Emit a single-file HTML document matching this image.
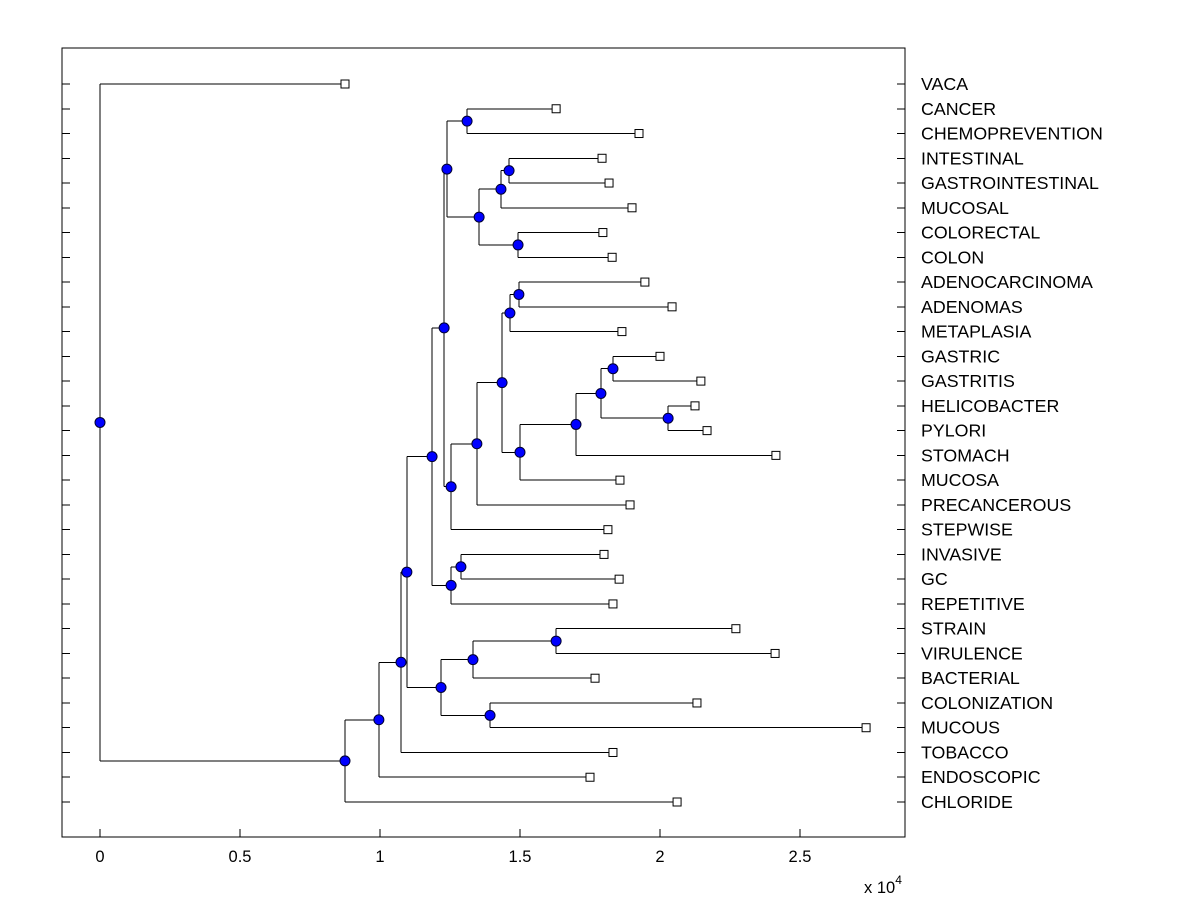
<!DOCTYPE html>
<html><head><meta charset="utf-8"><style>
body{margin:0;background:#fff;}
svg{display:block;font-family:"Liberation Sans",Arial,sans-serif;}
</style></head><body>
<svg id="chart" width="1200" height="900" viewBox="0 0 1200 900"></svg>
<script>
const leaves=["VACA","CANCER","CHEMOPREVENTION","INTESTINAL","GASTROINTESTINAL","MUCOSAL","COLORECTAL","COLON","ADENOCARCINOMA","ADENOMAS","METAPLASIA","GASTRIC","GASTRITIS","HELICOBACTER","PYLORI","STOMACH","MUCOSA","PRECANCEROUS","STEPWISE","INVASIVE","GC","REPETITIVE","STRAIN","VIRULENCE","BACTERIAL","COLONIZATION","MUCOUS","TOBACCO","ENDOSCOPIC","CHLORIDE"];
const leafValues=[0.875,1.629,1.925,1.793,1.818,1.9,1.796,1.829,1.946,2.043,1.864,2.0,2.146,2.125,2.168,2.414,1.857,1.893,1.814,1.8,1.854,1.832,2.271,2.411,1.768,2.132,2.736,1.832,1.75,2.061];
const nodeNames=["n_cancer","n_intgast","n_int3","n_colon","n_int4","n_top","n_adeno","n_meta","n_gastric","n_helico","n_g2","n_stom","n_s2","n_s3","n_s4","n_s5","n_mid","n_inv","n_inv2","n_big","n_strain","n_bact","n_mucous","n_b2","n_c","n_d","n_e","n_f","root"];
const nodeValues=[1.311,1.461,1.432,1.493,1.354,1.239,1.496,1.464,1.832,2.029,1.789,1.7,1.5,1.436,1.346,1.254,1.229,1.289,1.254,1.186,1.629,1.332,1.393,1.218,1.096,1.075,0.996,0.875,0];
const nodeChildren=[["CANCER","CHEMOPREVENTION"],["INTESTINAL","GASTROINTESTINAL"],["n_intgast","MUCOSAL"],["COLORECTAL","COLON"],["n_int3","n_colon"],["n_cancer","n_int4"],["ADENOCARCINOMA","ADENOMAS"],["n_adeno","METAPLASIA"],["GASTRIC","GASTRITIS"],["HELICOBACTER","PYLORI"],["n_gastric","n_helico"],["n_g2","STOMACH"],["n_stom","MUCOSA"],["n_meta","n_s2"],["n_s3","PRECANCEROUS"],["n_s4","STEPWISE"],["n_top","n_s5"],["INVASIVE","GC"],["n_inv","REPETITIVE"],["n_mid","n_inv2"],["STRAIN","VIRULENCE"],["n_strain","BACTERIAL"],["COLONIZATION","MUCOUS"],["n_bact","n_mucous"],["n_big","n_b2"],["n_c","TOBACCO"],["n_d","ENDOSCOPIC"],["n_e","CHLORIDE"],["VACA","n_f"]];
const xTicks=[0,0.5,1,1.5,2,2.5];
const xTickLabels=["0","0.5","1","1.5","2","2.5"];

const L=62,R=905,T=48,B=837;
const xs=v=>100+v*280;
const rowY=i=>84+i*(802-84)/29;
const svg=document.getElementById('chart');
const NS="http://www.w3.org/2000/svg";
function mk(tag,attrs,parent){const e=document.createElementNS(NS,tag);for(const k in attrs)e.setAttribute(k,attrs[k]);(parent||svg).appendChild(e);return e;}

const frame=mk('rect',{x:L,y:T,width:R-L,height:B-T,fill:'none',stroke:'#000','stroke-width':1});



const pos={};
leaves.forEach((n,i)=>{pos[n]={x:xs(leafValues[i]),y:rowY(i)};});
nodeNames.forEach((n,i)=>{
  const a=pos[nodeChildren[i][0]],b=pos[nodeChildren[i][1]];
  pos[n]={x:xs(nodeValues[i]),y:(a.y+b.y)/2};
});
const g=mk('g',{});


nodeNames.forEach((n,i)=>{
  const p=pos[n];
  const ys=[];
  nodeChildren[i].forEach(c=>{const q=pos[c];ys.push(q.y);
    const l=mk('line',{x1:p.x,y1:q.y,x2:q.x,y2:q.y,stroke:'#000','stroke-width':1,'shape-rendering':'crispEdges'},g);
    
    
  });
  const v=mk('line',{x1:p.x,y1:ys[0],x2:p.x,y2:ys[1],stroke:'#000','stroke-width':1,'shape-rendering':'crispEdges'},g);
  
  
});
leaves.forEach((n,i)=>{
  const y=rowY(i);
  mk('line',{x1:L,y1:y,x2:L+8,y2:y,stroke:'#000','shape-rendering':'crispEdges'});
  mk('line',{x1:R-8,y1:y,x2:R,y2:y,stroke:'#000','shape-rendering':'crispEdges'});
  const t=mk('text',{x:921,y:y+6,'font-size':17.8,fill:'#000'});
  t.textContent=n;
  
  
});
xTicks.forEach((v,i)=>{
  const x=xs(v);
  mk('line',{x1:x,y1:B,x2:x,y2:B-8,stroke:'#000','shape-rendering':'crispEdges'});
  const t=mk('text',{x:x,y:862,'font-size':16.5,'text-anchor':'middle'});
  t.textContent=xTickLabels[i];
  
  
});
const ex=mk('text',{x:864,y:893,'font-size':16.5});
ex.innerHTML='x 10<tspan dy="-9" font-size="12">4</tspan>';


leaves.forEach(n=>{const p=pos[n];
  const r=mk('rect',{x:p.x-4,y:p.y-4,width:8,height:8,fill:'#fff',stroke:'#000','stroke-width':1});
  
  
});
nodeNames.forEach(n=>{const p=pos[n];
  const c=mk('circle',{cx:p.x,cy:p.y,r:5,fill:'#0000ff',stroke:'#000030','stroke-width':1});
  
  
});
</script>
</body></html>
